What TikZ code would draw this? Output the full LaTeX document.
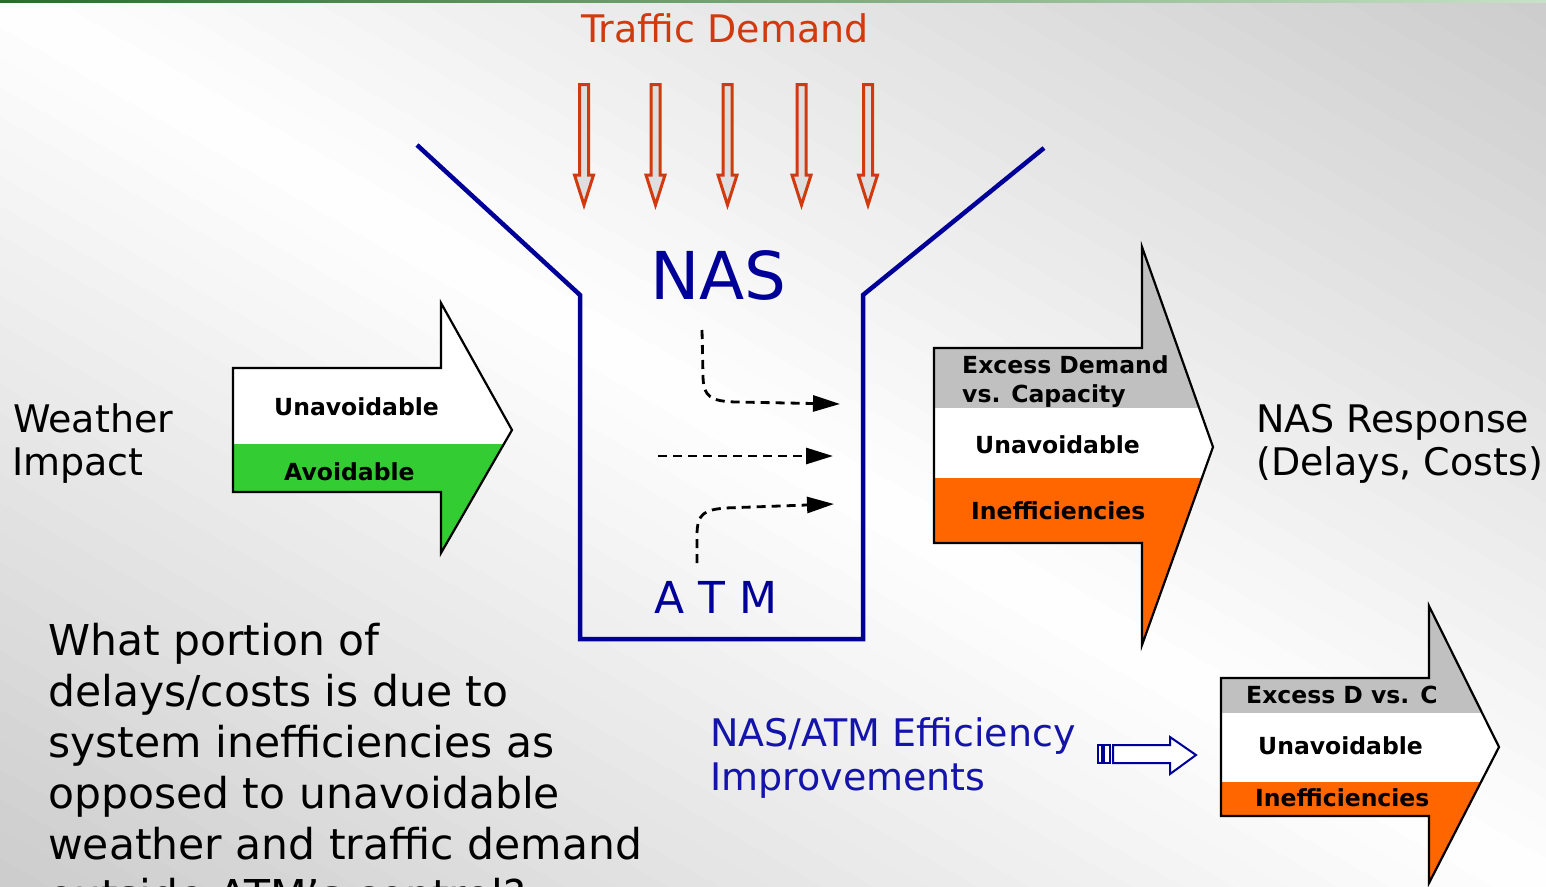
\documentclass[tikz,border=0pt]{standalone}
\usepackage{fontspec}
\setmainfont{DejaVu Sans}
\usetikzlibrary{arrows.meta}
\definecolor{navy}{RGB}{0,0,153}
\definecolor{navytxt}{RGB}{20,20,170}
\definecolor{trafred}{RGB}{208,58,14}
\definecolor{trafgray}{RGB}{222,222,222}
\definecolor{wgreen}{RGB}{51,204,51}
\definecolor{iorange}{RGB}{255,102,0}
\definecolor{bandgray}{RGB}{192,192,192}
\definecolor{bggray}{RGB}{204,204,204}
\definecolor{topgreen}{RGB}{40,110,40}
\definecolor{topgreenlt}{RGB}{200,225,200}
\tikzset{
  big/.style={font=\fontsize{38}{44}\selectfont, inner sep=0pt, anchor=base west},
  quest/.style={font=\fontsize{42.5}{51}\selectfont, inner sep=0pt, anchor=base west},
  lbl/.style={font=\bfseries\fontsize{23.5}{28}\selectfont, inner sep=0pt, anchor=base west},
  funnel/.style={draw=navy, line width=4.5pt, line join=miter},
  tarrow/.style={draw=trafred, fill=trafgray, line width=3pt, line join=miter},
  blockarrow/.style={draw=black, line width=2.2pt, line join=miter},
  flow/.style={line width=2.8pt, dash pattern=on 9pt off 6pt, -{Triangle[length=27pt,width=16pt]}},
  striped/.style={draw=navy, fill=white, line width=2pt, line join=miter}
}
\begin{document}
\begin{tikzpicture}[x=1pt,y=-1pt]
\useasboundingbox (0,0) rectangle (1546,886);
% background: diagonal bands, white along the main diagonal, grey at the other corners
\begin{scope}
  \clip (0,0) rectangle (1546,886);
  \foreach \i in {0,...,59}{
    \pgfmathsetmacro{\ta}{-1+\i/30}
    \pgfmathsetmacro{\tb}{\ta+1/30+0.004}
    \pgfmathsetmacro{\f}{min(100,abs(\ta+1/60)*100)}
    \fill[bggray!\f!white] ({1546*\ta},-2) -- ({1546*\tb},-2) -- ({1546*(\tb+1)},888) -- ({1546*(\ta+1)},888) -- cycle;
  }
\end{scope}
\shade[left color=topgreen, right color=topgreenlt] (0,0) rectangle (1546,2.5);

% traffic demand arrows
\foreach \c in {584,655.5,727.5,801.5,868}{
  \draw[tarrow] ({\c-4.5},84.5) -- ({\c+4.5},84.5) -- ({\c+4.5},175) -- ({\c+9.5},175)
     -- (\c,205) -- ({\c-9.5},175) -- ({\c-4.5},175) -- cycle;
}
\node[big, text=trafred] (td) at (581,42) {Traffic Demand};

% funnel
\draw[funnel] (417,145) -- (580,295) -- (580,639) -- (863,639) -- (863,295) -- (1044,148);
\node[font=\fontsize{66}{70}\selectfont, text=navy, inner sep=0pt, anchor=base west] (nas) at (650,299) {NAS};
\node[font=\fontsize{44}{50}\selectfont, text=navy, inner sep=0pt, anchor=base west] (atm) at (654,613) {A T M};

% dashed flows
\coordinate (a1s) at (702,330);
\coordinate (a1e) at (840,404);
\coordinate (a2s) at (658,456);
\coordinate (a2e) at (833,456);
\coordinate (a3s) at (697,563);
\coordinate (a3e) at (834,504);
\draw[flow] (a1s) -- (703,375) .. controls (703,398) and (712,401) .. (735,402) -- (a1e);
\draw[flow] (a2s) -- (a2e);
\draw[flow] (a3s) -- (697,535) .. controls (697,513) and (705,510) .. (725,508) -- (a3e);

% weather arrow
\def\warrow{(233,368) -- (441,368) -- (441,303) -- (512,430) -- (441,553) -- (441,492) -- (233,492) -- cycle}
\fill[white] \warrow;
\begin{scope}
  \clip \warrow;
  \fill[wgreen] (200,444) rectangle (530,570);
\end{scope}
\draw[blockarrow] \warrow;
\node[lbl] (wu) at (274,415) {Unavoidable};
\node[lbl] (wa) at (284,480) {Avoidable};
\node[big] (w1) at (13,432) {Weather};
\node[big] (w2) at (12,475) {Impact};

% NAS response arrow
\def\rarrow{(934,348) -- (1142,348) -- (1142,247) -- (1213,447) -- (1142,645) -- (1142,543) -- (934,543) -- cycle}
\begin{scope}
  \clip \rarrow;
  \fill[bandgray] (900,240) rectangle (1230,408);
  \fill[white] (900,408) rectangle (1230,478);
  \fill[iorange] (900,478) rectangle (1230,660);
\end{scope}
\draw[blockarrow] \rarrow;
\node[lbl] (r1) at (962,373) {Excess Demand};
\node[lbl] (r2) at (962,402) {vs. Capacity};
\node[lbl] (r3) at (975,453) {Unavoidable};
\node[lbl] (r4) at (971,519) {Inefficiencies};
\node[big] (n1) at (1256,432) {NAS Response};
\node[big] (n2) at (1256,475) {(Delays, Costs)};

% efficiency improvements
\node[big, text=navytxt] (e1) at (710,746) {NAS/ATM Efficiency};
\node[big, text=navytxt] (e2) at (710,790) {Improvements};
\draw[striped] (1098,745) rectangle (1102,763);
\draw[striped] (1104,745) rectangle (1110,763);
\draw[striped] (1113,745) -- (1170,745) -- (1170,737) -- (1196,755) -- (1170,774) -- (1170,763) -- (1113,763) -- cycle;

% improved arrow
\def\sarrow{(1221,678) -- (1429,678) -- (1429,606) -- (1499,747) -- (1429,883) -- (1429,816) -- (1221,816) -- cycle}
\begin{scope}
  \clip \sarrow;
  \fill[bandgray] (1200,600) rectangle (1510,713);
  \fill[white] (1200,713) rectangle (1510,782);
  \fill[iorange] (1200,782) rectangle (1510,890);
\end{scope}
\draw[blockarrow] \sarrow;
\node[lbl] (s1) at (1246,703) {Excess D vs. C};
\node[lbl] (s2) at (1258,754) {Unavoidable};
\node[lbl] (s3) at (1255,806) {Inefficiencies};

% question (last line is cut by the lower edge, as in the reference)
\begin{scope}
  \clip (0,0) rectangle (1546,886);
  \node[quest] (q1) at (48,655) {What portion of};
  \node[quest] (q2) at (48,706) {delays/costs is due to};
  \node[quest] (q3) at (48,757) {system inefficiencies as};
  \node[quest] (q4) at (48,808) {opposed to unavoidable};
  \node[quest] (q5) at (48,859) {weather and traffic demand};
  \node[quest] (q6) at (48,910) {outside ATM's control?};
\end{scope}
\end{tikzpicture}
\end{document}
